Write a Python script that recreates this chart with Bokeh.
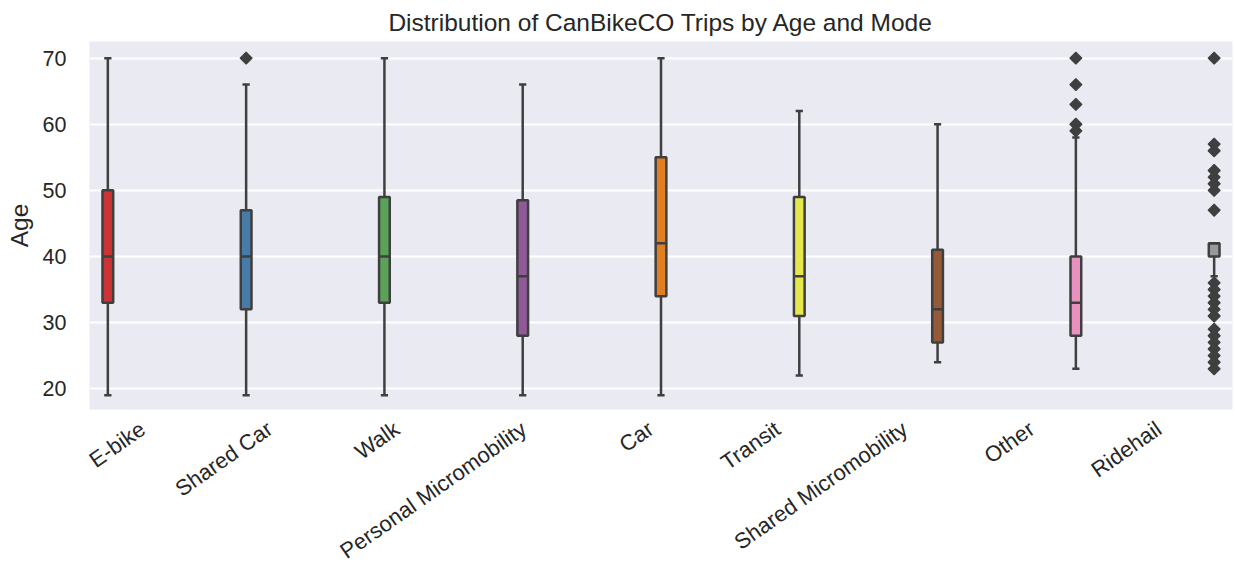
import math
from bokeh.plotting import figure
from bokeh.models import Range1d, FixedTicker, ColumnDataSource
from bokeh.embed import file_html
from bokeh.resources import INLINE

# ---- data ----
modes = ["E-bike", "Shared Car", "Walk", "Personal Micromobility", "Car",
         "Transit", "Shared Micromobility", "Other", "Ridehail"]
q1 = [33, 32, 33, 28, 34, 31, 27, 28, 40]
median = [40, 40, 40, 37, 42, 37, 32, 33, 42]
q3 = [50, 47, 49, 48.5, 55, 49, 41, 40, 42]
whisker_low = [19, 19, 19, 19, 19, 22, 24, 23, 37]
whisker_high = [70, 66, 70, 66, 70, 62, 60, 58, 42]
outliers = {
    "Shared Car": [70],
    "Other": [70, 66, 63, 60, 59],
    "Ridehail": [70, 57, 56, 53, 52, 51, 50, 47,
                 36, 35, 34, 33, 32, 31, 29, 28, 27, 26, 25, 24, 23],
}
colors = ["#CB3335", "#477CA8", "#59A257", "#905998", "#DF7F20",
          "#E6E64D", "#965A38", "#E890BE", "#999999"]
y_ticks = [20, 30, 40, 50, 60, 70]

# ---- layout helpers ----
n = len(modes)
slot = 0.8 / n                     # dodge slot width (hue == x)
box_w = slot * 0.95
cap_half = slot * 0.32
xpos = [i - 0.4 + slot * (i + 0.5) for i in range(n)]
label_shift = 0.08                 # rotated labels end at their category tick
x_ticks = [i - label_shift for i in range(n)]

src = ColumnDataSource(dict(
    x=xpos, q1=q1, q3=q3, med=median, lo=whisker_low, hi=whisker_high,
    color=colors,
    x0=[x - box_w / 2 for x in xpos], x1=[x + box_w / 2 for x in xpos],
    c0=[x - cap_half for x in xpos], c1=[x + cap_half for x in xpos],
))

ox, oy = [], []
for i, m in enumerate(modes):
    for v in outliers.get(m, []):
        ox.append(xpos[i])
        oy.append(v)

FONT = "Liberation Sans"
TXT = "#262626"
EDGE = "#3F3F3F"

p = figure(width=1233, height=577, output_backend="svg", toolbar_location=None,
           x_range=Range1d(-0.5, 8.5), y_range=Range1d(16.85, 72.52),
           min_border_left=89, min_border_right=1, min_border_top=40,
           min_border_bottom=168,
           title="Distribution of CanBikeCO Trips by Age and Mode")

p.background_fill_color = "#EAEAF2"
p.border_fill_color = "white"
p.outline_line_color = None

p.title.align = "center"
p.title.text_font = FONT
p.title.text_font_size = "24.5px"
p.title.text_font_style = "normal"
p.title.text_color = TXT
p.title.standoff = 12

p.xgrid.visible = False
p.ygrid.grid_line_color = "white"
p.ygrid.grid_line_width = 2
p.yaxis.ticker = FixedTicker(ticks=y_ticks)
p.xaxis.ticker = FixedTicker(ticks=x_ticks)
p.xaxis.major_label_overrides = {t: m for t, m in zip(x_ticks, modes)}
p.xaxis.major_label_orientation = math.radians(35)

for ax in (p.xaxis, p.yaxis):
    ax.axis_line_color = None
    ax.major_tick_line_color = None
    ax.minor_tick_line_color = None
    ax.major_tick_out = 0
    ax.major_tick_in = 0
    ax.minor_tick_out = 0
    ax.minor_tick_in = 0
    ax.major_label_text_font = FONT
    ax.major_label_text_color = TXT
p.yaxis.major_label_text_font_size = "21.5px"
p.xaxis.major_label_text_font_size = "22px"
p.yaxis.major_label_standoff = 23
p.xaxis.major_label_standoff = 17
p.yaxis.axis_label = "Age"
p.yaxis.axis_label_text_font = FONT
p.yaxis.axis_label_text_font_size = "24.5px"
p.yaxis.axis_label_text_font_style = "normal"
p.yaxis.axis_label_text_color = TXT
p.yaxis.axis_label_standoff = 7

# whiskers
p.segment(x0="x", y0="q3", x1="x", y1="hi", source=src, line_color=EDGE, line_width=2.5)
p.segment(x0="x", y0="q1", x1="x", y1="lo", source=src, line_color=EDGE, line_width=2.5)
# caps
p.segment(x0="c0", y0="hi", x1="c1", y1="hi", source=src, line_color=EDGE, line_width=2.5)
p.segment(x0="c0", y0="lo", x1="c1", y1="lo", source=src, line_color=EDGE, line_width=2.5)
# boxes
p.vbar(x="x", width=box_w, bottom="q1", top="q3", source=src,
       fill_color="color", line_color=EDGE, line_width=2.5)
# medians
p.segment(x0="x0", y0="med", x1="x1", y1="med", source=src, line_color=EDGE, line_width=2.5)
# outliers
p.scatter(ox, oy, marker="square", angle=math.pi / 4, size=8.5,
          fill_color=EDGE, line_color=EDGE, line_width=1.2)

open("out.html", "w").write(file_html(p, INLINE))
